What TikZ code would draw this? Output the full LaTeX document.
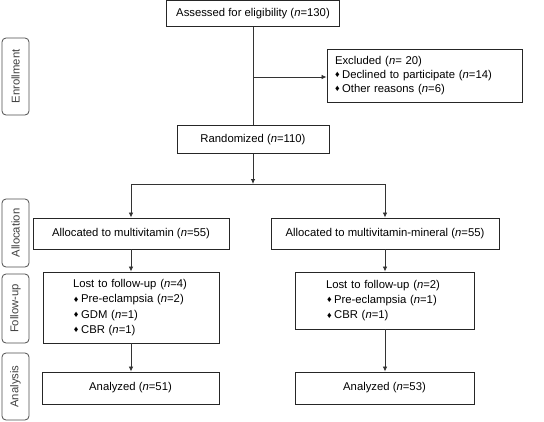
\documentclass[tikz,border=0pt]{standalone}
\usepackage{fontspec}
\usepackage{graphicx}
\setmainfont{Liberation Sans}
\usetikzlibrary{arrows.meta}
\newcommand{\bul}{\raisebox{0.1ex}{\scalebox{0.8}{♦}}\hspace{2.5pt}}
\begin{document}
\begin{tikzpicture}[x=1pt,y=1pt,
  box/.style={draw=black!85,line width=0.9pt,minimum height=#1,inner sep=0pt,font=\fontsize{11.3}{15.3}\selectfont},
  lbox/.style={draw=black!85,line width=0.9pt,align=left,inner ysep=0pt,font=\fontsize{11.3}{15.3}\selectfont},
  side/.style={draw=black!70,line width=0.8pt,rounded corners=4pt,minimum width=27pt,minimum height=#1,inner sep=0pt},
  sidetxt/.style={rotate=90,text=black!75,font=\fontsize{11.3}{13}\selectfont},
  conn/.style={draw=black!80,line width=0.8pt},
  arr/.style={conn,-{Latex[length=5pt,width=4.5pt]}}]
\useasboundingbox (0,0) rectangle (544,-421);
% side labels
\node[side=77pt] (s1) at (15.5,-76.5) {};
\node[sidetxt] (t1) at (s1.center) {Enrollment};
\node[side=68pt] (s2) at (15.5,-233) {};
\node[sidetxt] (t2) at (s2.center) {Allocation};
\node[side=69pt] (s3) at (15.5,-308.5) {};
\node[sidetxt] (t3) at (s3.center) {Follow-up};
\node[side=67pt] (s4) at (15.5,-386.5) {};
\node[sidetxt] (t4) at (s4.center) {Analysis};
% boxes
\node[box=26pt,minimum width=173pt] (assess) at (253,-13.5) {Assessed for eligibility (\textit{n}=130)};
\node[lbox,minimum height=53pt,inner xsep=8pt,text width=179pt] (excl) at (424.5,-75.5)
  {Excluded (\textit{n}= 20)\\[-1.3pt]\bul Declined to participate (\textit{n}=14)\\[-1.3pt]\bul Other reasons (\textit{n}=6)};
\node[box=28pt,minimum width=152pt] (rand) at (253,-139.5) {Randomized (\textit{n}=110)};
\node[box=31pt,minimum width=196pt] (al) at (131,-233.5) {Allocated to multivitamin (\textit{n}=55)};
\node[box=31pt,minimum width=228pt] (ar) at (385,-233.5) {Allocated to multivitamin-mineral (\textit{n}=55)};
\node[lbox,minimum height=71pt,inner xsep=30pt,text width=116pt] (fl) at (131,-307.5)
  {Lost to follow-up (\textit{n}=4)\\\hspace*{1pt}\bul Pre-eclampsia (\textit{n}=2)\\\hspace*{1pt}\bul GDM (\textit{n}=1)\\\hspace*{1pt}\bul CBR (\textit{n}=1)};
\node[lbox,minimum height=57pt,inner xsep=31pt,text width=117pt] (fr) at (384.5,-300.5)
  {Lost to follow-up (\textit{n}=2)\\\hspace*{1pt}\bul Pre-eclampsia (\textit{n}=1)\\\hspace*{1pt}\bul CBR (\textit{n}=1)};
\node[box=32pt,minimum width=177pt] (nl) at (130.5,-388) {Analyzed (\textit{n}=51)};
\node[box=32pt,minimum width=179pt] (nr) at (384.5,-388) {Analyzed (\textit{n}=53)};
% connectors
\coordinate (br) at (253,-77);
\coordinate (sp) at (253,-184);
\coordinate (spl) at (131,-184);
\coordinate (spr) at (385,-184);
\draw[conn] (assess.south) -- (rand.north);
\draw[arr] (br) -- (br -| excl.west);
\draw[arr] (rand.south) -- (sp);
\draw[conn] (spl) -- (spr);
\draw[arr] (spl) -- (al.north);
\draw[arr] (spr) -- (ar.north);
\draw[arr] (al.south) -- (al.south |- fl.north);
\draw[arr] (ar.south) -- (ar.south |- fr.north);
\draw[arr] (al.south |- fl.south) -- (al.south |- nl.north);
\draw[arr] (ar.south |- fr.south) -- (ar.south |- nr.north);
\end{tikzpicture}
\end{document}
